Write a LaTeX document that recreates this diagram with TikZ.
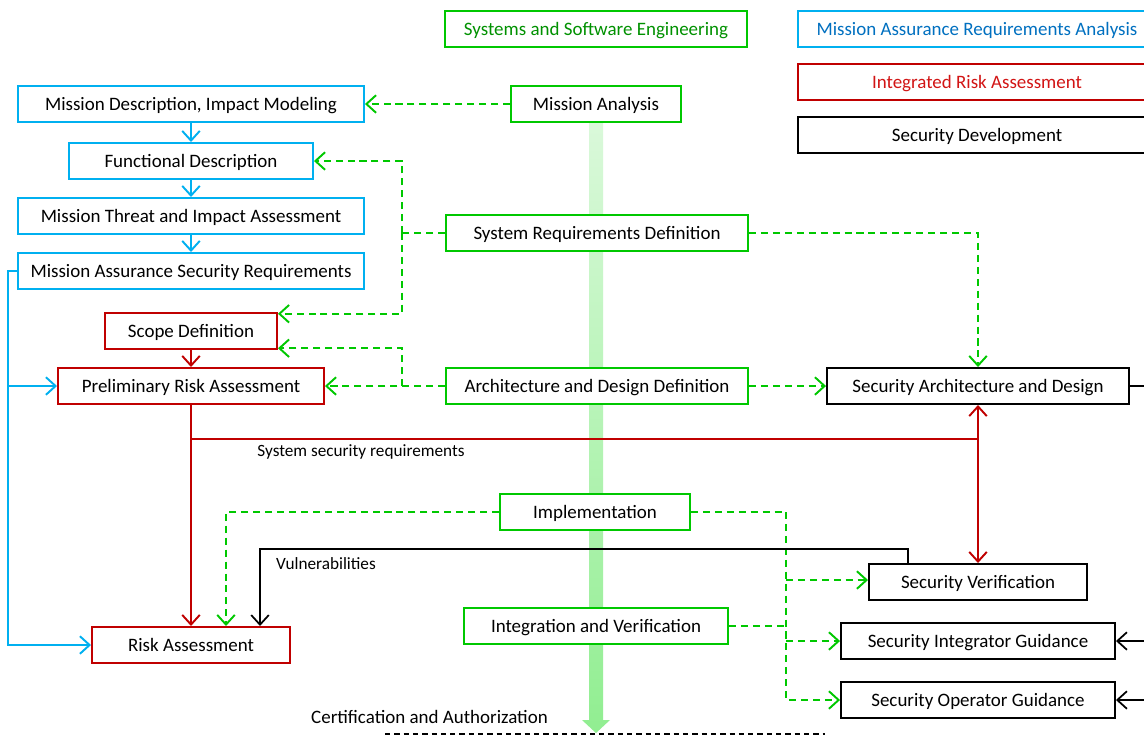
\documentclass[tikz,border=0pt]{standalone}
\usepackage{fontspec}
\setmainfont{Carlito}
\usetikzlibrary{arrows.meta,positioning,calc}
\definecolor{skyblue}{RGB}{0,176,240}
\definecolor{skytext}{RGB}{0,112,192}
\definecolor{riskred}{RGB}{192,0,0}
\definecolor{risktext}{RGB}{210,20,20}
\definecolor{seegreen}{RGB}{0,200,0}
\definecolor{seetext}{RGB}{0,145,0}
\definecolor{flowtop}{RGB}{220,249,220}
\definecolor{flowbot}{RGB}{145,238,145}

\begin{document}
\begin{tikzpicture}[
    x=0.02cm, y=-0.02cm,
    every node/.style={font=\fontsize{10.8}{13}\selectfont},
    base/.style={rectangle, draw, fill=white, line width=1.13pt, inner sep=0pt, minimum height=0.72cm,
        text height=7pt, text depth=0pt, align=center},
    bluebox/.style={base, draw=skyblue},
    redbox/.style={base, draw=riskred},
    greenbox/.style={base, draw=seegreen},
    blackbox/.style={base, draw=black},
    lbl/.style={font=\fontsize{9.8}{12}\selectfont, inner sep=0pt},
    gdash/.style={draw=seegreen, line width=1.1pt, dash pattern=on 4pt off 2.8pt},
    bline/.style={draw=skyblue, line width=1.1pt},
    rline/.style={draw=riskred, line width=1.1pt},
    kline/.style={draw=black, line width=1pt},
    >={Straight Barb[length=5.5pt,width=10pt]}
]
\useasboundingbox (0,0) rectangle (1144,735);
\clip (0,0) rectangle (1144,735);
\fill[white] (0,0) rectangle (1144,735);

% engineering flow arrow
\shade[top color=flowtop, bottom color=flowbot]
    (589,104) -- (603,104) -- (603,720) -- (610,720) -- (596,733) -- (582,720) -- (589,720) -- cycle;

% legend
\node[greenbox, minimum width=6.04cm, text=seetext] (sse) at (596,29) {Systems and Software Engineering};
\node[bluebox, minimum width=7.16cm, text=skytext] (mara) at (977,29) {Mission Assurance Requirements Analysis};
\node[redbox, minimum width=7.16cm, text=risktext] (ira) at (977,82) {Integrated Risk Assessment};
\node[blackbox, minimum width=7.16cm] (secdev) at (977,135) {Security Development};

% mission assurance column
\node[bluebox, minimum width=6.92cm] (mdim) at (191,104) {Mission Description, Impact Modeling};
\node[bluebox, minimum width=4.88cm] (fd) at (191,161) {Functional Description};
\node[bluebox, minimum width=6.92cm] (mtia) at (191,216) {Mission Threat and Impact Assessment};
\node[bluebox, minimum width=6.92cm] (masr) at (191,271) {Mission Assurance Security Requirements};

% risk assessment
\node[redbox, minimum width=3.44cm] (scope) at (191,331) {Scope Definition};
\node[redbox, minimum width=5.32cm] (pra) at (191,386) {Preliminary Risk Assessment};
\node[redbox, minimum width=3.96cm] (ra) at (191,645) {Risk Assessment};

% engineering steps
\node[greenbox, minimum width=3.4cm] (ma) at (596,104) {Mission Analysis};
\node[greenbox, minimum width=6.04cm] (srd) at (597,233) {System Requirements Definition};
\node[greenbox, minimum width=6.04cm] (add) at (597,386) {Architecture and Design Definition};
\node[greenbox, minimum width=3.8cm] (impl) at (595,512) {Implementation};
\node[greenbox, minimum width=5.28cm] (iv) at (596,626) {Integration and Verification};

% security development
\node[blackbox, minimum width=6.04cm] (sad) at (978,386) {Security Architecture and Design};
\node[blackbox, minimum width=4.36cm] (sv) at (978,582) {Security Verification};
\node[blackbox, minimum width=5.48cm] (sig) at (978,641) {Security Integrator Guidance};
\node[blackbox, minimum width=5.48cm] (sog) at (978,700) {Security Operator Guidance};

\node[inner sep=0pt] (cert) at (429.5,717) {Certification and Authorization};
\coordinate (edge) at (1150,0);
\coordinate (c1) at (385,734);
\coordinate (c2) at (825,734);

% blue flow
\draw[bline,->] (mdim) -- (fd);
\draw[bline,->] (fd) -- (mtia);
\draw[bline,->] (mtia) -- (masr);
\draw[bline,->] (masr.west) -- ++(-9,0) coordinate (b1) |- (ra.west);
\draw[bline,->] (b1 |- pra.west) -- (pra.west);

% red flow
\draw[rline,->] (scope) -- (pra);
\draw[rline,->] (pra) -- (ra);
\coordinate (r1) at ($(pra.south)+(0,34)$);
\draw[rline,->] (r1) -| (sad.south);
\draw[rline,->] (r1 -| sad.south) -- (sv.north);
\node[lbl] (ssr) at (361,452) {System security requirements};

% green dashed flow
\draw[gdash,->] (ma) -- (mdim);
\coordinate (j1) at ($(srd.west)+(-43,0)$);
\draw[gdash] (srd.west) -- (j1);
\draw[gdash,->] (j1) |- ([yshift=-1pt]scope.north east);
\draw[gdash,->] (j1) |- (fd.east);
\coordinate (j2) at ($(add.west)+(-43,0)$);
\draw[gdash,->] (j2) |- ([yshift=1pt]scope.south east);
\draw[gdash,->] (add) -- (pra);
\draw[gdash,->] (srd.east) -| (sad.north);
\draw[gdash,->] (add) -- (sad);
\draw[gdash,->] (impl.west) -| ($(ra.north)+(35,0)$);
\coordinate (g1) at ($(impl.east)+(95,0)$);
\draw[gdash] (impl.east) -- (g1);
\draw[gdash,->] (g1) |- (sog.west);
\draw[gdash,->] ($(g1 |- sv.west)+(0,-2)$) -- ($(sv.west)+(0,-2)$);
\draw[gdash,->] (g1 |- sig.west) -- (sig.west);
\draw[gdash] (iv.east) -- (g1 |- iv.east);

% black flow
\draw[kline,->] ($(sv.north)+(-70,0)$) -- ++(0,-14) -| ($(ra.north)+(69,0)$);
\node[lbl] (vul) at (326,564) {Vulnerabilities};
\draw[kline] (sad.east) -- (sad.east -| edge);
\draw[kline,->] (sig.east -| edge) -- (sig.east);
\draw[kline,->] (sog.east -| edge) -- (sog.east);
\draw[kline, dash pattern=on 3pt off 2.3pt] (c1) -- (c2);

\end{tikzpicture}
\end{document}
